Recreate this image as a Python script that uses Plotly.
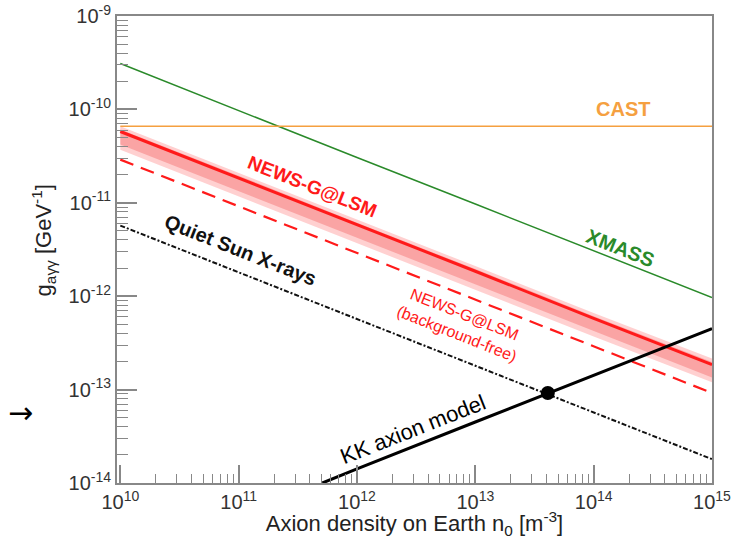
import plotly.graph_objects as go

# ---- data ----
n_dec = [1e10, 1e11, 1e12, 1e13, 1e14, 1e15]
xmass_g = [3.1e-10, 9.7e-11, 3.05e-11, 9.7e-12, 3.05e-12, 9.7e-13]
cast_n = [1e10, 1e15]
cast_g = [6.6e-11, 6.6e-11]
newsg_g = [5.8e-11, 1.85e-11, 5.8e-12, 1.85e-12, 5.8e-13, 1.85e-13]
band_outer_hi = [6.6e-11, 2.1e-11, 6.6e-12, 2.1e-12, 6.6e-13, 2.15e-13]
band_outer_lo = [3.7e-11, 1.17e-11, 3.7e-12, 1.17e-12, 3.7e-13, 1.2e-13]
band_inner_hi = [6.1e-11, 1.95e-11, 6.1e-12, 1.95e-12, 6.1e-13, 1.97e-13]
band_inner_lo = [4.2e-11, 1.33e-11, 4.2e-12, 1.33e-12, 4.2e-13, 1.35e-13]
bgfree_g = [2.9e-11, 9.2e-12, 2.9e-12, 9.2e-13, 2.9e-13, 9.2e-14]
quietsun_g = [5.7e-12, 1.8e-12, 5.7e-13, 1.8e-13, 5.7e-14, 1.8e-14]
kk_n = [5.1e11, 1e12, 1e13, 1e14, 1e15]
kk_g = [1.0e-14, 1.42e-14, 4.5e-14, 1.42e-13, 4.5e-13]
dot_n = [4.1e13]
dot_g = [9.2e-14]

y_tick_exp = [-9, -10, -11, -12, -13, -14]
x_tick_exp = [10, 11, 12, 13, 14, 15]

FONT = "Liberation Sans, Arial, Helvetica, sans-serif"
RED = "#ff1a1a"
GREEN = "#2a8a2a"
ORANGE = "#f5a040"

fig = go.Figure()

# band (outer)
fig.add_trace(go.Scatter(x=n_dec, y=band_outer_hi, mode="lines", line=dict(width=0), showlegend=False, hoverinfo="skip"))
fig.add_trace(go.Scatter(x=n_dec, y=band_outer_lo, mode="lines", line=dict(width=0), fill="tonexty",
                         fillcolor="rgba(255,120,120,0.35)", showlegend=False, hoverinfo="skip"))
# band (inner)
fig.add_trace(go.Scatter(x=n_dec, y=band_inner_hi, mode="lines", line=dict(width=0), showlegend=False, hoverinfo="skip"))
fig.add_trace(go.Scatter(x=n_dec, y=band_inner_lo, mode="lines", line=dict(width=0), fill="tonexty",
                         fillcolor="rgba(245,110,110,0.45)", showlegend=False, hoverinfo="skip"))

fig.add_trace(go.Scatter(x=n_dec, y=xmass_g, mode="lines", line=dict(color=GREEN, width=1.5), showlegend=False))
fig.add_trace(go.Scatter(x=cast_n, y=cast_g, mode="lines", line=dict(color=ORANGE, width=1.5), showlegend=False))
fig.add_trace(go.Scatter(x=n_dec, y=newsg_g, mode="lines", line=dict(color=RED, width=3), showlegend=False))
fig.add_trace(go.Scatter(x=n_dec, y=bgfree_g, mode="lines", line=dict(color=RED, width=2.2, dash="14px,8px"), showlegend=False))
fig.add_trace(go.Scatter(x=n_dec, y=quietsun_g, mode="lines",
                         line=dict(color="#111111", width=2, dash="5px,2px,2px,2px"), showlegend=False))
fig.add_trace(go.Scatter(x=kk_n, y=kk_g, mode="lines", line=dict(color="#000000", width=3), showlegend=False))
fig.add_trace(go.Scatter(x=dot_n, y=dot_g, mode="markers", marker=dict(color="#000000", size=14), showlegend=False))

ANG = 21.5
ann = [
    dict(text="<b>CAST</b>", x=14.25, y=-10.0, font=dict(color=ORANGE, size=20), textangle=0),
    dict(text="<b>NEWS-G@LSM</b>", x=11.62, y=-10.825, font=dict(color=RED, size=19), textangle=ANG),
    dict(text="<b>XMASS</b>", x=14.225, y=-11.479, font=dict(color=GREEN, size=20), textangle=ANG),
    dict(text="NEWS-G@LSM<br>(background-free)", x=12.873, y=-12.298, font=dict(color=RED, size=16), textangle=ANG),
    dict(text="<b>Quiet Sun X-rays</b>", x=11.015, y=-11.505, font=dict(color="#111111", size=20), textangle=ANG),
    dict(text="KK axion model", x=12.47, y=-13.43, font=dict(color="#000000", size=22), textangle=-ANG),
]
for a in ann:
    fig.add_annotation(xref="x", yref="y", showarrow=False, xanchor="center", yanchor="middle",
                       font_family=FONT, **a)

fig.add_annotation(xref="paper", yref="paper", x=-0.162, y=0.15, text="→", showarrow=False,
                   font=dict(size=30, color="#000000", family="DejaVu Sans"), xanchor="center", yanchor="middle")

# y-axis title placed as rotated text (matches reference position)
fig.add_annotation(xref="paper", yref="paper", x=-0.124, y=0.52,
                   text="g<sub>aγγ</sub> [GeV<sup>-1</sup>]", showarrow=False, textangle=-90,
                   font=dict(family=FONT, size=22, color="#222222"), xanchor="center", yanchor="middle")

minor_x = [m * 10 ** e for e in range(10, 15) for m in range(2, 10)]
minor_y = [m * 10 ** e for e in range(-14, -9) for m in range(2, 10)]

fig.update_xaxes(
    type="log", range=[9.972, 15.0], automargin=False,
    tickvals=[10 ** e for e in x_tick_exp],
    ticktext=[f"10<sup>{e}</sup>" for e in x_tick_exp],
    ticks="inside", ticklen=18, tickwidth=1.5, tickcolor="#888888",
    minor=dict(tickvals=minor_x, ticks="inside", ticklen=9, tickwidth=1.2, tickcolor="#888888", showgrid=False),
    showline=True, linecolor="#888888", linewidth=2, mirror=True,
    showgrid=False, zeroline=False,
    tickfont=dict(family=FONT, size=20, color="#333333"),
    title=dict(text="Axion density on Earth n<sub>0</sub> [m<sup>-3</sup>]",
               font=dict(family=FONT, size=22, color="#222222"), standoff=4),
)
fig.update_yaxes(
    type="log", range=[-14, -9], automargin=False,
    tickvals=[10 ** e for e in y_tick_exp],
    ticktext=[f"10<sup>{e}</sup>" for e in y_tick_exp],
    ticks="inside", ticklen=20, tickwidth=1.5, tickcolor="#888888",
    minor=dict(tickvals=minor_y, ticks="inside", ticklen=11, tickwidth=1.2, tickcolor="#888888", showgrid=False),
    showline=True, linecolor="#888888", linewidth=2, mirror=True,
    showgrid=False, zeroline=False,
    tickfont=dict(family=FONT, size=20, color="#333333"),
)

fig.update_layout(
    width=746, height=539,
    margin=dict(l=117, r=34, t=16, b=56),
    paper_bgcolor="white", plot_bgcolor="white",
    font=dict(family=FONT),
    showlegend=False,
)

fig.write_html("out.html")
